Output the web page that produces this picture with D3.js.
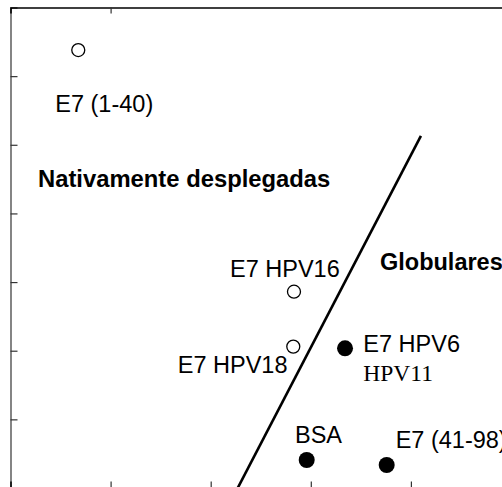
<!DOCTYPE html>
<html>
<head>
<meta charset="utf-8">
<script src="https://cdn.jsdelivr.net/npm/d3@7"></script>
<style>
  html, body { margin: 0; padding: 0; background: #fff; }
  svg { display: block; }
</style>
</head>
<body>
<div id="chart"></div>
<script>
// Protein samples: position on the two hidden axes and whether they are native-unfolded (open) or globular (filled)
const names   = ["E7 (1-40)", "E7 HPV16", "E7 HPV18", "E7 HPV6", "BSA", "E7 (41-98)"];
const xValues = [0.677, 2.832, 2.825, 3.342, 2.959, 3.758];
const yValues = [6.38, 2.86, 2.06, 2.035, 0.408, 0.335];
const folded  = [false, false, false, true, true, true];

// Boundary separating the two groups
const boundaryX = [2.27, 4.10];
const boundaryY = [0.0, 5.13];

// Axis tick values (no tick labels are printed)
const xTicksBottom = [1, 2, 3, 4];
const xTicksTop    = [1];
const yTicks       = [1, 2, 3, 4, 5, 6];

const W = 502, H = 487;
const x = d3.scaleLinear().domain([0, 5]).range([10.5, 511]);
const y = d3.scaleLinear().domain([0, 7]).range([488, 7.5]);

const svg = d3.select("#chart").append("svg")
  .attr("width", W).attr("height", H);

const sans = "'Liberation Sans', Arial, sans-serif";
const serif = "'Liberation Serif', 'Times New Roman', serif";
const fs = 23.5;

// Frame: left and top axes with inward ticks, bottom axis sits at the lower edge
svg.append("g")
  .attr("transform", `translate(${x(0)},0)`)
  .call(d3.axisLeft(y).tickValues(yTicks).tickSize(-7).tickFormat(""))
  .call(g => g.select(".domain").attr("stroke", "#444").attr("stroke-width", 1.3))
  .call(g => g.selectAll(".tick line").attr("stroke", "#333").attr("stroke-width", 1.2));

svg.append("g")
  .attr("transform", `translate(0,${y(7)})`)
  .call(d3.axisTop(x).tickValues(xTicksTop).tickSize(-6).tickFormat(""))
  .call(g => g.select(".domain").attr("stroke", "#000").attr("stroke-width", 1.6))
  .call(g => g.selectAll(".tick line").attr("stroke", "#333").attr("stroke-width", 1.2));

svg.append("g")
  .attr("transform", `translate(0,${y(0)})`)
  .call(d3.axisBottom(x).tickValues(xTicksBottom).tickSize(-6.5).tickFormat(""))
  .call(g => g.select(".domain").attr("stroke", "#000").attr("stroke-width", 1.5))
  .call(g => g.selectAll(".tick line").attr("stroke", "#333").attr("stroke-width", 1.2));

// Dividing line
svg.append("line")
  .attr("x1", x(boundaryX[0])).attr("y1", y(boundaryY[0]))
  .attr("x2", x(boundaryX[1])).attr("y2", y(boundaryY[1]))
  .attr("stroke", "#000").attr("stroke-width", 2.6);

// Sample markers
const pts = names.map((n, i) => ({ n, x: xValues[i], y: yValues[i], f: folded[i] }));
svg.selectAll("circle.pt").data(pts).enter().append("circle")
  .attr("class", "pt")
  .attr("cx", d => x(d.x)).attr("cy", d => y(d.y))
  .attr("r", d => d.f ? 8 : 6.5)
  .attr("fill", d => d.f ? "#000" : "#fff")
  .attr("stroke", "#000").attr("stroke-width", d => d.f ? 0 : 1.3);

// Sample labels, placed relative to their markers
const labelOffsets = [
  { dx: -23, dy: 61.7 },   // E7 (1-40)
  { dx: -64, dy: -15 },    // E7 HPV16
  { dx: -115.5, dy: 26.6 },// E7 HPV18
  { dx: 18.3, dy: 4 },     // E7 HPV6
  { dx: -11.7, dy: -16.7 },// BSA
  { dx: 9, dy: -16.7 }     // E7 (41-98)
];
svg.selectAll("text.lbl").data(pts).enter().append("text")
  .attr("class", "lbl")
  .attr("x", (d, i) => x(d.x) + labelOffsets[i].dx)
  .attr("y", (d, i) => y(d.y) + labelOffsets[i].dy)
  .attr("font-family", sans).attr("font-size", fs)
  .attr("fill", "#000")
  .text(d => d.n);

// Second strain sharing the HPV6 marker
svg.append("text")
  .attr("x", x(xValues[3]) + 18.3).attr("y", y(yValues[3]) + 32.7)
  .attr("font-family", serif).attr("font-size", fs).attr("fill", "#000")
  .text("HPV11");

// Region titles
svg.append("text")
  .attr("x", 38).attr("y", 186.7)
  .attr("font-family", sans).attr("font-size", 23.8).attr("font-weight", "bold")
  .text("Nativamente desplegadas");
svg.append("text")
  .attr("x", 380).attr("y", 270)
  .attr("font-family", sans).attr("font-size", fs).attr("font-weight", "bold")
  .text("Globulares");
</script>
</body>
</html>
